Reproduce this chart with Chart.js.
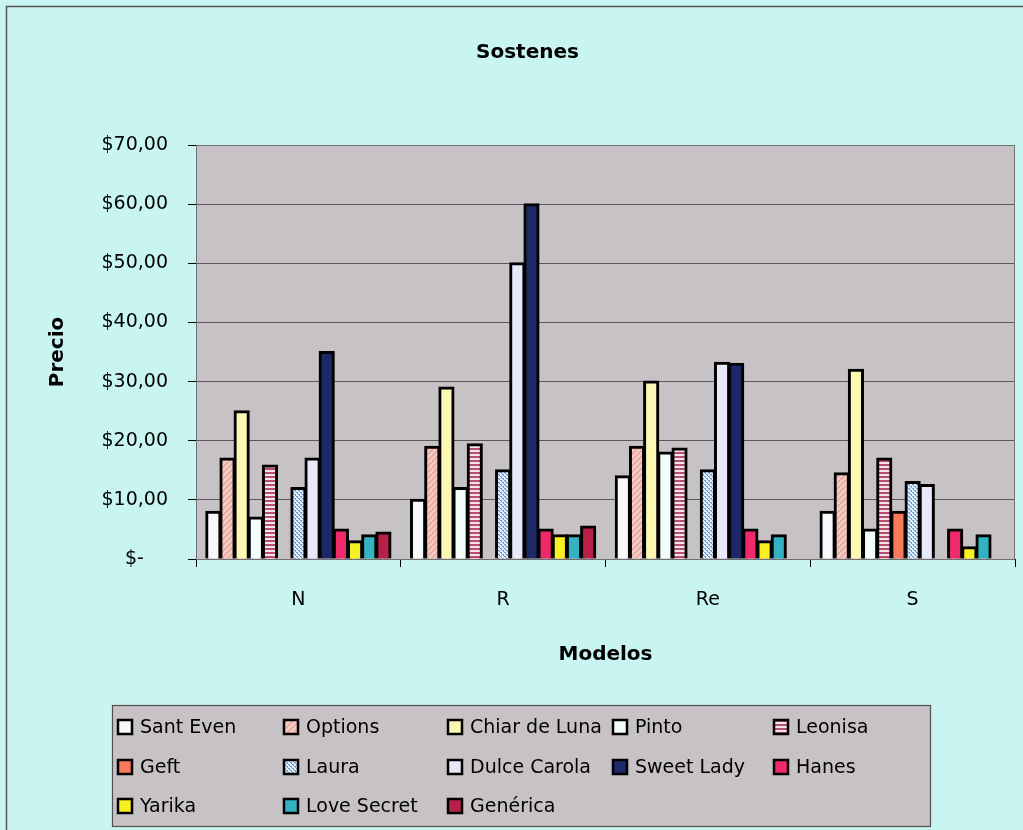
<!DOCTYPE html>
<html>
<head>
<meta charset="utf-8">
<script src="https://cdn.jsdelivr.net/npm/chart.js@4.4.0/dist/chart.umd.min.js"></script>
<style>
html,body{margin:0;padding:0;background:#c8f5f1;}
canvas{display:block;}
</style>
</head>
<body>
<canvas id="c" width="1023" height="830"></canvas>
<script>
// ---- data ----
const categories = ['N', 'R', 'Re', 'S'];
const seriesNames = ['Sant Even', 'Options', 'Chiar de Luna', 'Pinto', 'Leonisa', 'Geft', 'Laura',
  'Dulce Carola', 'Sweet Lady', 'Hanes', 'Yarika', 'Love Secret', 'Genérica'];
const santEven    = [8, 10, 14, 8];
const options_    = [17, 19, 19, 14.5];
const chiarDeLuna = [25, 29, 30, 32];
const pinto       = [7, 12, 18, 5];
const leonisa     = [15.8, 19.4, 18.7, 17];
const geft        = [null, null, null, 8];
const laura       = [12, 15, 15, 13];
const dulceCarola = [17, 50, 33.2, 12.5];
const sweetLady   = [35, 60, 33, null];
const hanes       = [5, 5, 5, 5];
const yarika      = [3, 4, 3, 2];
const loveSecret  = [4, 4, 4, 4];
const generica    = [4.5, 5.5, null, null];
const seriesValues = [santEven, options_, chiarDeLuna, pinto, leonisa, geft, laura,
  dulceCarola, sweetLady, hanes, yarika, loveSecret, generica];
const yTickValues = [0, 10, 20, 30, 40, 50, 60, 70];
const yTickLabels = ['$-\u00a0\u00a0\u00a0\u00a0', '$10,00', '$20,00', '$30,00', '$40,00', '$50,00', '$60,00', '$70,00'];

// ---- patterns ----
function makePattern(w, h, draw) {
  const c = document.createElement('canvas');
  c.width = w; c.height = h;
  const g = c.getContext('2d');
  draw(g, w, h);
  return document.getElementById('c').getContext('2d').createPattern(c, 'repeat');
}
const hatchPink = makePattern(6, 6, (g, w, h) => {
  g.fillStyle = '#f4cac2'; g.fillRect(0, 0, w, h);
  g.strokeStyle = '#e39a92'; g.lineWidth = 1.2;
  g.beginPath();
  g.moveTo(0, h); g.lineTo(w, 0);
  g.moveTo(-w, h); g.lineTo(0, 0);
  g.moveTo(w, 2 * h); g.lineTo(2 * w, h);
  g.stroke();
});
const stripes = makePattern(4, 4, (g, w, h) => {
  g.fillStyle = '#f6e4ea'; g.fillRect(0, 0, w, h);
  g.fillStyle = '#b84c72'; g.fillRect(0, 0, w, 2);
});
const dots = makePattern(4, 4, (g, w, h) => {
  g.fillStyle = '#e4eefa'; g.fillRect(0, 0, w, h);
  g.fillStyle = '#6c9ed8';
  g.fillRect(0, 0, 2, 1); g.fillRect(2, 2, 2, 1); g.fillRect(1, 1, 1, 1); g.fillRect(3, 3, 1, 1);
});
const seriesColors = ['#f8f8fc', hatchPink, '#fcf8b4', '#f2fcf8', stripes, '#f87a5a', dots,
  '#e8e8f8', '#1c2868', '#f02a6a', '#f8f020', '#32b2c2', '#b8204a'];

const FONT = "'DejaVu Sans', sans-serif";

const bgPlugin = {
  id: 'bg',
  beforeDraw(chart) {
    const ctx = chart.ctx, a = chart.chartArea;
    ctx.save();
    ctx.fillStyle = '#c8f5f1';
    ctx.fillRect(0, 0, chart.width, chart.height);
    ctx.strokeStyle = '#555';
    ctx.lineWidth = 1.5;
    ctx.beginPath();
    ctx.moveTo(6.5, chart.height); ctx.lineTo(6.5, 6.5); ctx.lineTo(chart.width, 6.5);
    ctx.stroke();
    ctx.fillStyle = '#c6c2c6';
    ctx.fillRect(a.left, a.top, a.right - a.left, a.bottom - a.top);
    ctx.restore();
  },
  beforeDatasetsDraw(chart) {
    const ctx = chart.ctx, a = chart.chartArea;
    ctx.save();
    ctx.strokeStyle = '#707070';
    ctx.lineWidth = 1;
    ctx.strokeRect(a.left + 0.5, a.top + 0.5, a.right - a.left - 1, a.bottom - a.top);
    ctx.restore();
  },
  afterDraw(chart) {
    const ctx = chart.ctx;
    ctx.save();
    const bx = 112, by = 705, bw = 818, bh = 121;
    ctx.fillStyle = '#c6c2c6';
    ctx.fillRect(bx, by, bw, bh);
    ctx.strokeStyle = '#505050';
    ctx.lineWidth = 1.2;
    ctx.strokeRect(bx + 0.5, by + 0.5, bw, bh);
    const cols = [117, 283, 447, 612, 773];
    const rows = [727, 767, 806];
    ctx.font = '19px ' + FONT;
    ctx.textBaseline = 'middle';
    ctx.textAlign = 'left';
    chart.data.datasets.forEach((ds, i) => {
      const x = cols[i % 5], y = rows[Math.floor(i / 5)];
      ctx.fillStyle = ds.backgroundColor;
      ctx.fillRect(x, y - 8, 16, 16);
      ctx.lineWidth = 2.5;
      ctx.strokeStyle = '#000';
      ctx.strokeRect(x + 1, y - 7, 14, 14);
      ctx.fillStyle = '#000';
      ctx.fillText(ds.label, x + 23, y + 1);
    });
    ctx.restore();
  }
};

new Chart(document.getElementById('c'), {
  type: 'bar',
  data: {
    labels: categories,
    datasets: seriesNames.map((name, i) => ({
      label: name,
      data: seriesValues[i],
      backgroundColor: seriesColors[i],
      borderColor: '#000',
      borderWidth: 3,
      inflateAmount: 1,
      barPercentage: 1,
      categoryPercentage: 0.9
    }))
  },
  options: {
    responsive: false,
    animation: false,
    devicePixelRatio: 1,
    layout: { padding: { left: 40, right: 8, top: 0, bottom: 150 } },
    plugins: {
      legend: { display: false },
      tooltip: { enabled: false },
      title: {
        display: true,
        text: 'Sostenes',
        color: '#000',
        font: { family: FONT, size: 20, weight: 'bold' },
        padding: { top: 41, bottom: 80 }
      }
    },
    scales: {
      x: {
        offset: true,
        afterFit: s => { s.height = 121; },
        grid: { offset: true, drawOnChartArea: false, tickLength: 8, color: '#000' },
        border: { color: '#000', width: 1 },
        ticks: { color: '#000', padding: 22, font: { family: FONT, size: 19 } },
        title: {
          display: true, text: 'Modelos', color: '#000',
          font: { family: FONT, size: 20, weight: 'bold' },
          padding: { top: 0, bottom: 13 }
        }
      },
      y: {
        min: 0, max: 70,
        afterFit: s => { s.width = 156; },
        afterBuildTicks: s => { s.ticks = yTickValues.map(v => ({ value: v })); },
        grid: { color: '#5a5a5a', tickColor: '#000', tickLength: 8, lineWidth: 1 },
        border: { color: '#000', width: 1 },
        ticks: {
          color: '#000', padding: 20, font: { family: FONT, size: 19 },
          callback: v => yTickLabels[yTickValues.indexOf(v)]
        },
        title: {
          display: true, text: 'Precio', color: '#000',
          font: { family: FONT, size: 20, weight: 'bold' },
          padding: { top: 6, bottom: 0 }
        }
      }
    }
  },
  plugins: [bgPlugin]
});
</script>
</body>
</html>
